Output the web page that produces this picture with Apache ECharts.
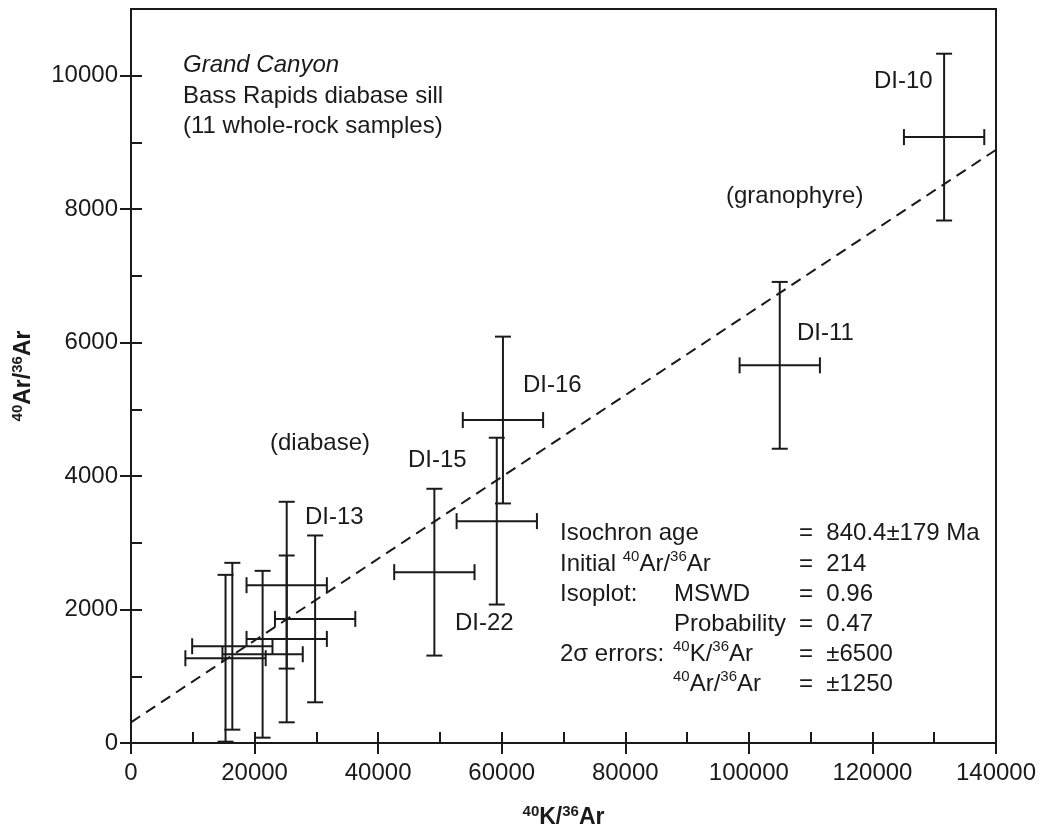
<!DOCTYPE html>
<html>
<head>
<meta charset="utf-8">
<script src="https://cdn.jsdelivr.net/npm/echarts@6.0.0/dist/echarts.min.js"></script>
<style>
html,body{margin:0;padding:0;background:#fff;}
#chart{width:1046px;height:830px;}
</style>
</head>
<body>
<div id="chart"></div>
<script>
// ---- data ----
const sampleIds = ['DI-10', 'DI-11', 'DI-16', 'DI-22', 'DI-15', 's6', 's7', 's8', 's9', 's10', 's11'];
const kAr  = [131600, 105000, 60200, 59200, 49100, 15300, 16400, 21300, 25200, 25200, 29800];
const arAr = [9080, 5660, 4840, 3325, 2560, 1270, 1450, 1330, 2365, 1560, 1860];
const kErr  = [6500, 6500, 6500, 6500, 6500, 6500, 6500, 6500, 6500, 6500, 6500];
const arErr = [1250, 1250, 1250, 1250, 1250, 1250, 1250, 1250, 1250, 1250, 1250];
const isoX = [0, 140000];
const isoY = [310, 8890];
const xTicks = [0, 20000, 40000, 60000, 80000, 100000, 120000, 140000];
const yTicks = [0, 2000, 4000, 6000, 8000, 10000];
const yMinorTicks = [1000, 3000, 5000, 7000, 9000];

const FONT = '"Liberation Sans", Arial, Helvetica, sans-serif';
const INK = '#1a1a1a';

const chart = echarts.init(document.getElementById('chart'), null, {renderer: 'canvas'});

const barData = kAr.map((x, i) => [x, arAr[i], kErr[i], arErr[i]]);
const lineData = isoX.map((x, i) => [x, isoY[i]]);

function renderBar(params, api) {
  const x = api.value(0), y = api.value(1), ex = api.value(2), ey = api.value(3);
  const l = api.coord([x - ex, y]), r = api.coord([x + ex, y]);
  const t = api.coord([x, y + ey]), b = api.coord([x, y - ey]);
  const cap = 8;
  const st = {stroke: INK, lineWidth: 2};
  const seg = (x1, y1, x2, y2) => ({type: 'line', shape: {x1, y1, x2, y2}, style: st});
  return {
    type: 'group',
    children: [
      seg(l[0], l[1], r[0], r[1]),
      seg(l[0], l[1] - cap, l[0], l[1] + cap),
      seg(r[0], r[1] - cap, r[0], r[1] + cap),
      seg(t[0], t[1], b[0], b[1]),
      seg(t[0] - cap, t[1], t[0] + cap, t[1]),
      seg(b[0] - cap, b[1], b[0] + cap, b[1])
    ]
  };
}

const supRich = {
  sup: {fontSize: 15, fontFamily: FONT, color: INK, verticalAlign: 'top', lineHeight: 14},
  n: {fontSize: 24, fontFamily: FONT, color: INK, lineHeight: 30}
};
const nameRich = {
  sup: {fontSize: 15, fontFamily: FONT, fontWeight: 'bold', color: INK, verticalAlign: 'top', lineHeight: 14},
  n: {fontSize: 23, fontFamily: FONT, fontWeight: 'bold', color: INK, lineHeight: 28}
};

function txt(text, x, y, extra) {
  return {
    type: 'text', x: x, y: y, silent: true,
    style: Object.assign({
      text: text, fill: INK, font: '24px ' + FONT,
      align: 'left', verticalAlign: 'middle', rich: supRich
    }, extra || {})
  };
}

const graphics = [
  txt('Grand Canyon', 183, 65, {font: 'italic 24px ' + FONT}),
  txt('Bass Rapids diabase sill', 183, 96),
  txt('(11 whole-rock samples)', 183, 126),
  txt(sampleIds[0], 874, 81),
  txt('(granophyre)', 726, 196),
  txt(sampleIds[1], 797, 333),
  txt(sampleIds[2], 523, 385),
  txt(sampleIds[4], 408, 460),
  txt(sampleIds[3], 455, 623),
  txt('DI-13', 305, 517),
  txt('(diabase)', 270, 443),
  // isochron results block
  txt('Isochron age', 560, 533),
  txt('=  840.4\u00b1179 Ma', 799, 533),
  txt('{n|Initial }{sup|40}{n|Ar/}{sup|36}{n|Ar}', 560, 564),
  txt('=  214', 799, 564),
  txt('Isoplot:', 560, 594),
  txt('MSWD', 674, 594),
  txt('=  0.96', 799, 594),
  txt('Probability', 674, 624),
  txt('=  0.47', 799, 624),
  txt('2\u03c3 errors:', 560, 654),
  txt('{sup|40}{n|K/}{sup|36}{n|Ar}', 673, 654),
  txt('=  \u00b16500', 799, 654),
  txt('{sup|40}{n|Ar/}{sup|36}{n|Ar}', 673, 684),
  txt('=  \u00b11250', 799, 684)
];

const axisLineStyle = {color: INK, width: 2};
const tickStyle = {color: INK, width: 2};
const plain = v => String(v);

const option = {
  animation: false,
  backgroundColor: '#fff',
  grid: {left: 131, right: 50, top: 9, bottom: 87, show: true, borderColor: INK, borderWidth: 2,
    backgroundColor: 'transparent', containLabel: false, outerBoundsMode: 'none'},
  xAxis: [
    {
      type: 'value', min: xTicks[0], max: xTicks[xTicks.length - 1], interval: xTicks[1] - xTicks[0],
      position: 'bottom',
      axisLine: {show: true, onZero: false, lineStyle: axisLineStyle},
      axisTick: {show: true, inside: false, length: 11, lineStyle: tickStyle},
      axisLabel: {fontSize: 24, fontFamily: FONT, color: INK, margin: 18, formatter: plain},
      splitLine: {show: false},
      name: '{sup|40}{n|K/}{sup|36}{n|Ar}',
      nameLocation: 'middle', nameGap: 61,
      nameTextStyle: {rich: nameRich}
    },
    {
      type: 'value', min: xTicks[0], max: xTicks[xTicks.length - 1], interval: xTicks[1] - xTicks[0],
      position: 'bottom', offset: 0,
      axisLine: {show: true, onZero: false, lineStyle: axisLineStyle},
      axisTick: {show: true, inside: true, length: 11, lineStyle: tickStyle},
      minorTick: {show: true, splitNumber: 2, length: 11, lineStyle: tickStyle},
      axisLabel: {show: false},
      splitLine: {show: false}
    }
  ],
  yAxis: [
    {
      type: 'value', min: 0, max: 11000, interval: yTicks[1] - yTicks[0],
      position: 'left',
      axisLine: {show: true, onZero: false, lineStyle: axisLineStyle},
      axisTick: {show: true, inside: false, length: 11, lineStyle: tickStyle, customValues: yTicks},
      axisLabel: {fontSize: 24, fontFamily: FONT, color: INK, margin: 13, customValues: yTicks, formatter: plain},
      splitLine: {show: false},
      name: '{sup|40}{n|Ar/}{sup|36}{n|Ar}',
      nameLocation: 'middle', nameGap: 93, nameRotate: 90,
      nameTextStyle: {rich: nameRich}
    },
    {
      type: 'value', min: 0, max: 11000, interval: 1000,
      position: 'left', offset: 0,
      axisLine: {show: true, onZero: false, lineStyle: axisLineStyle},
      axisTick: {show: true, inside: true, length: 11, lineStyle: tickStyle, customValues: yTicks.concat(yMinorTicks)},
      axisLabel: {show: false},
      splitLine: {show: false}
    }
  ],
  series: [
    {
      type: 'line', data: lineData, showSymbol: false, symbol: 'none',
      xAxisIndex: 0, yAxisIndex: 0,
      lineStyle: {color: INK, width: 2, type: [11, 7]}, z: 2, silent: true
    },
    {
      type: 'custom', data: barData, renderItem: renderBar,
      xAxisIndex: 0, yAxisIndex: 0, z: 3, silent: true,
      encode: {x: [0], y: [1]}
    }
  ],
  graphic: graphics
};

chart.setOption(option);
</script>
</body>
</html>
